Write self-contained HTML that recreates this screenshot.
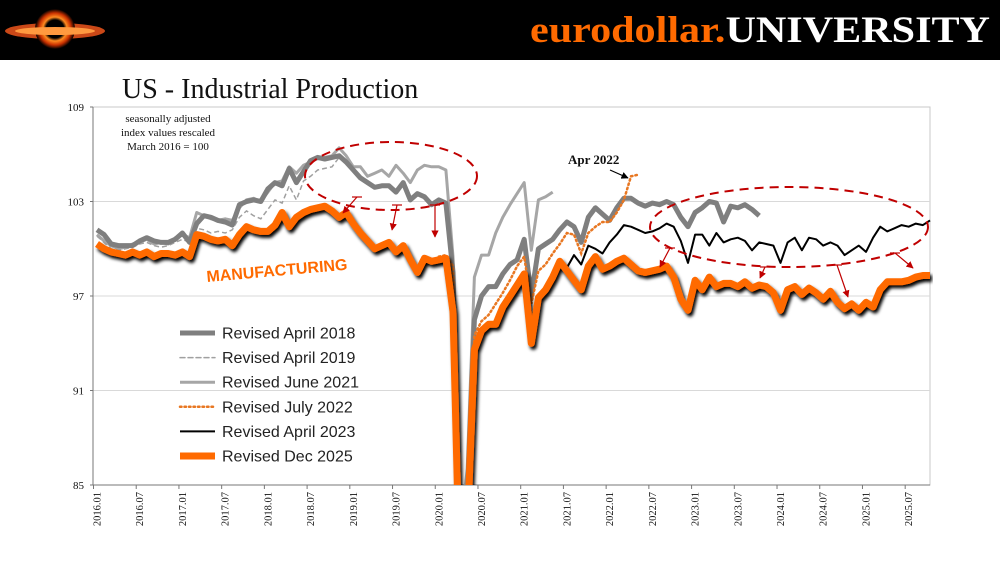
<!DOCTYPE html>
<html><head><meta charset="utf-8"><style>
html,body{margin:0;padding:0;background:#fff;width:1000px;height:563px;overflow:hidden;}
svg{display:block;}
.serif{font-family:"Liberation Serif",serif;}
.sans{font-family:"Liberation Sans",sans-serif;}
</style></head><body>
<svg id="chart" width="1000" height="563" viewBox="0 0 1000 563" xmlns="http://www.w3.org/2000/svg">
<defs>
<radialGradient id="lg" cx="50%" cy="50%" r="50%"><stop offset="0" stop-color="#000"/><stop offset="0.45" stop-color="#000"/><stop offset="0.6" stop-color="#ff8a20"/><stop offset="0.8" stop-color="#c83000"/><stop offset="1" stop-color="#000"/></radialGradient>
<clipPath id="plotclip"><rect x="93" y="107" width="840" height="378"/></clipPath>
<filter id="shadow" x="-5%" y="-5%" width="110%" height="120%"><feDropShadow dx="2" dy="3" stdDeviation="1.5" flood-color="#000" flood-opacity="1"/></filter>
<marker id="arr" viewBox="0 0 10 10" refX="9" refY="5" markerWidth="6" markerHeight="6" orient="auto"><path d="M0,0 L10,5 L0,10 z" fill="#c00000"/></marker>
<marker id="arrb" viewBox="0 0 10 10" refX="9" refY="5" markerWidth="6" markerHeight="6" orient="auto"><path d="M0,0 L10,5 L0,10 z" fill="#000"/></marker>
</defs>
<rect x="0" y="0" width="1000" height="60" fill="#000"/>
<g>
<ellipse cx="55" cy="31" rx="50" ry="8" fill="#e0501a" opacity="0.9"/>
<circle cx="55" cy="29" r="20" fill="url(#lg)"/>
<ellipse cx="55" cy="31" rx="40" ry="4" fill="#ff9a40"/>
</g>
<text class="serif" x="530" y="42" font-size="37" font-weight="bold" textLength="460" lengthAdjust="spacingAndGlyphs"><tspan fill="#ff6a00">eurodollar.</tspan><tspan fill="#fff">UNIVERSITY</tspan></text>
<text class="serif" x="122" y="98" font-size="28" fill="#111">US - Industrial Production</text>
<g id="plot"></g>
</svg>
<script>
const yTicks=[109,103,97,91,85];
const xLabels=["2016.01","2016.07","2017.01","2017.07","2018.01","2018.07","2019.01","2019.07","2020.01","2020.07","2021.01","2021.07","2022.01","2022.07","2023.01","2023.07","2024.01","2024.07","2025.01","2025.07"];
const apr2018=[101.2,100.9,100.3,100.2,100.2,100.2,100.5,100.7,100.5,100.4,100.4,100.6,101.0,100.4,101.6,102.1,102.0,101.8,101.7,101.5,102.8,103.0,103.1,103.0,103.8,104.2,104.0,105.1,104.2,104.9,105.6,105.8,105.7,105.8,105.9,105.5,105.0,104.5,104.2,103.9,104.0,104.0,103.6,104.2,103.1,103.5,103.3,102.8,103.1,102.9,98.5,80,84,95.5,97.0,97.6,97.6,98.4,99.0,99.3,100.6,97.0,100.0,100.3,100.6,101.2,101.7,101.4,100.4,102.0,102.6,102.2,101.8,102.6,103.2,103.2,102.9,102.7,102.9,102.8,103.0,102.8,102.0,101.4,102.3,102.6,103.0,102.9,101.7,102.7,102.6,102.8,102.5,102.1];
const apr2019=[100.8,100.4,100.0,99.9,100.0,100.1,100.3,100.4,100.2,100.1,100.2,100.4,100.6,100.4,101.3,101.2,101.0,101.1,101.0,101.2,102.0,102.4,102.1,101.9,102.5,103.1,102.9,104.0,103.1,104.3,104.6,105.0,105.1,105.2,105.8];
const jun2021=[100.9,100.5,100.2,100.0,100.1,100.3,100.4,100.6,100.3,100.4,100.3,100.7,100.9,100.7,102.3,102.1,101.9,101.8,101.9,101.8,102.6,103.1,103.2,103.0,103.6,104.2,104.3,105.2,104.8,105.3,105.5,105.8,105.8,105.9,106.4,105.9,105.2,105.2,104.6,104.8,105.0,104.6,105.3,104.8,104.2,105.0,105.3,105.2,105.2,105.0,99.5,82,86,98.2,99.6,99.6,101.0,102.0,102.8,103.5,104.2,99.9,103.1,103.3,103.6];
const jul2022Start=48;
const jul2022=[99.5,99.6,98.9,80,84,94.5,95.4,95.8,96.5,97.2,98.0,98.9,99.5,96.5,98.6,99.0,99.7,100.3,101.0,100.9,99.7,101.0,101.4,101.7,101.7,102.3,103.1,104.6,104.7];
const apr2023Start=66;
const apr2023=[98.8,99.6,99.0,100.2,100.0,99.7,100.4,100.9,101.5,101.4,101.2,101.0,101.1,101.3,101.6,101.4,100.5,99.1,100.9,100.9,100.2,101.0,100.4,100.6,100.7,100.5,99.9,100.4,100.3,100.2,99.1,100.4,100.7,99.9,100.7,100.6,100.2,100.4,100.2,99.6,99.9,100.2,99.8,100.7,101.4,101.1,101.3,101.5,101.4,101.6,101.5,101.8];
const dec2025=[100.3,100.0,99.8,99.7,99.6,99.8,99.6,99.8,99.5,99.7,99.7,99.6,99.8,99.5,100.9,100.8,100.6,100.5,100.6,100.2,100.9,101.4,101.2,101.1,101.1,101.5,102.3,101.4,102.0,102.3,102.5,102.6,102.7,102.4,102.0,102.3,101.6,101.0,100.5,100.0,100.2,100.4,99.8,100.2,99.3,98.5,99.4,99.2,99.3,99.4,96.0,78,82,93.6,94.8,95.2,95.2,96.3,97.0,97.7,98.4,94.0,96.9,97.4,98.2,99.2,98.6,98.0,97.4,98.9,99.5,98.7,98.9,99.2,99.4,99.0,98.6,98.5,98.6,98.7,98.9,98.2,96.8,96.1,98.0,97.4,98.2,97.6,97.8,97.8,97.6,97.9,97.5,97.7,97.6,97.2,96.1,97.4,97.6,97.1,97.5,97.2,96.8,97.3,96.6,96.2,96.5,96.1,96.6,96.3,97.4,97.9,97.9,97.9,98.0,98.2,98.3,98.3];

const NS="http://www.w3.org/2000/svg";
const plot=document.getElementById('plot');
const X0=97, DX=7.12, Y0=107, YS=15.75;
function xs(m){return X0+m*DX;}
function ys(v){return Y0+(109-v)*YS;}
function mk(tag,attrs,parent){const e=document.createElementNS(NS,tag);for(const k in attrs)e.setAttribute(k,attrs[k]);(parent||plot).appendChild(e);return e;}

const frame=mk('rect',{x:93,y:107,width:837,height:378,fill:'none',stroke:'#c8c8c8','stroke-width':1});


yTicks.forEach(v=>{
  if(v!==109&&v!==85){const g=mk('line',{x1:93,x2:930,y1:ys(v),y2:ys(v),stroke:'#d9d9d9','stroke-width':1});
  
  }
  const t=mk('text',{x:84,y:ys(v)+4,'font-size':11,'text-anchor':'end',fill:'#111',class:'serif'});t.textContent=v;
  
  
  const tk=mk('line',{x1:90,x2:93,y1:ys(v),y2:ys(v),stroke:'#777'});
  
  
});
const yax=mk('line',{x1:93,x2:93,y1:107,y2:485,stroke:'#777'});


const xax=mk('line',{x1:93,x2:930,y1:485,y2:485,stroke:'#777'});


xLabels.forEach((l,i)=>{
  const m=i*6;
  const tk=mk('line',{x1:xs(m)-3.5,x2:xs(m)-3.5,y1:485,y2:489,stroke:'#777'});
  
  
  const t=mk('text',{x:0,y:0,'font-size':10.5,fill:'#111','text-anchor':'end',class:'serif',transform:`translate(${xs(m)+3.5},492) rotate(-90)`});
  t.textContent=l;
  
  
});

function pts(arr,start){return arr.map((v,i)=>xs(start+i).toFixed(1)+','+ys(v).toFixed(1)).join(' ');}
const series=mk('g',{'clip-path':'url(#plotclip)'});


let s;
s=mk('polyline',{points:pts(jun2021,0),fill:'none',stroke:'#a6a6a6','stroke-width':3,'stroke-linejoin':'round'},series);


s=mk('polyline',{points:pts(apr2019,0),fill:'none',stroke:'#a0a0a0','stroke-width':1.5,'stroke-dasharray':'5,3'},series);


s=mk('polyline',{points:pts(apr2018,0),fill:'none',stroke:'#7f7f7f','stroke-width':5,'stroke-linejoin':'round'},series);


s=mk('polyline',{points:pts(jul2022,jul2022Start),fill:'none',stroke:'#e87722','stroke-width':2.5,'stroke-dasharray':'1.5,3','stroke-linecap':'round'},series);


s=mk('polyline',{points:pts(apr2023,apr2023Start),fill:'none',stroke:'#000','stroke-width':2,'stroke-linejoin':'round'},series);


s=mk('polyline',{points:pts(dec2025,0),fill:'none',stroke:'#ff6a00','stroke-width':7,'stroke-linejoin':'round',filter:'url(#shadow)'},series);



let a;
a=mk('ellipse',{cx:391,cy:176,rx:86,ry:34,fill:'none',stroke:'#c00000','stroke-width':2,'stroke-dasharray':'9,6'});


a=mk('ellipse',{cx:789,cy:227,rx:139,ry:40,fill:'none',stroke:'#c00000','stroke-width':2,'stroke-dasharray':'9,6'});


[[357,197,343,213],[397,205,392,230],[435,205,435,237],[670,248,660,267],[765,267,760,278],[837,265,848,297],[895,253,913,268]].forEach(p=>{
  const l=mk('polyline',{points:`${p[0]-5},${p[1]} ${p[0]+5},${p[1]}`,fill:'none',stroke:'#c00000','stroke-width':1.2});
  
  
  const ln=mk('line',{x1:p[0],y1:p[1],x2:p[2],y2:p[3],stroke:'#c00000','stroke-width':1.2,'marker-end':'url(#arr)'});
  
  
});
a=mk('text',{x:568,y:164,'font-size':13,'font-weight':'bold',fill:'#111',class:'serif'});a.textContent='Apr 2022';


a=mk('line',{x1:610,y1:170,x2:628,y2:178,stroke:'#000','stroke-width':1.2,'marker-end':'url(#arrb)'});


a=mk('text',{x:0,y:0,'font-size':16,'font-weight':'bold',fill:'#ff6a00',class:'sans',transform:'translate(207,282) rotate(-5)'});a.textContent='MANUFACTURING';


const note=['seasonally adjusted','index values rescaled','March 2016 = 100'];
note.forEach((t,i)=>{const e=mk('text',{x:168,y:122+i*14,'font-size':11,'text-anchor':'middle',fill:'#111',class:'serif'});e.textContent=t;
  
  });

const legNames=['Revised April 2018','Revised April 2019','Revised June 2021','Revised July 2022','Revised April 2023','Revised Dec 2025'];
const legStyles=[{stroke:'#7f7f7f',w:5},{stroke:'#a0a0a0',w:1.5,d:'5,3'},{stroke:'#a6a6a6',w:3},{stroke:'#e87722',w:2.5,d:'1.5,3'},{stroke:'#000',w:2},{stroke:'#ff6a00',w:7}];
const leg=mk('g',{});


legNames.forEach((n,i)=>{
  const y=333+i*24.6, st=legStyles[i];
  const l=mk('line',{x1:180,x2:215,y1:y,y2:y,stroke:st.stroke,'stroke-width':st.w,'stroke-linecap':st.d?'round':'butt'},leg);
  if(st.d)l.setAttribute('stroke-dasharray',st.d);
  
  
  const t=mk('text',{x:222,y:y+5.5,'font-size':16,fill:'#222',class:'sans'},leg);t.textContent=n;
  
  
});
</script>
</body></html>
